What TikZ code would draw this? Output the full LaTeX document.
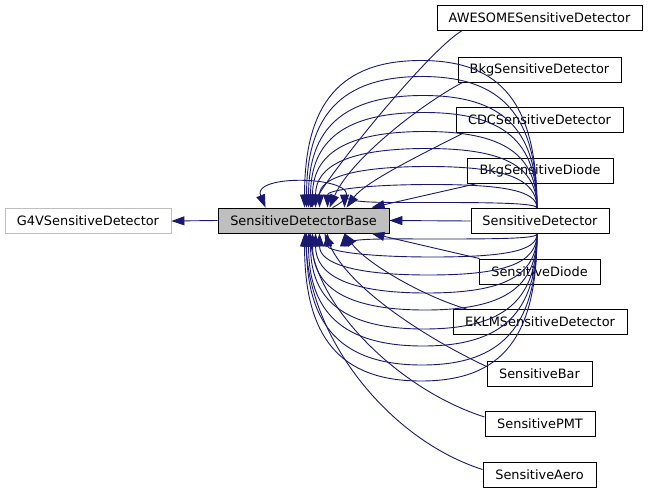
\documentclass[tikz,border=0pt]{standalone}
\usepackage{fontspec}
\setmainfont{DejaVu Sans}
\usetikzlibrary{arrows.meta}
\definecolor{mblue}{HTML}{191970}
\definecolor{grey75}{HTML}{BFBFBF}
\begin{document}
\begin{tikzpicture}[x=1pt,y=-1pt,
  cls/.style={draw=black,line width=0.9pt,rectangle,inner sep=0pt,minimum height=25pt,font=\fontsize{12.9pt}{15pt}\selectfont},
  edge/.style={draw=mblue,line width=0.9pt,-{Triangle[length=13pt,width=9pt]}}]
\useasboundingbox (0,0) rectangle (648,493);
\node[cls,draw=grey75,minimum width=166pt] (g4v) at (88,221) {G4VSensitiveDetector};
\node[cls,fill=grey75,minimum width=171pt] (sdb) at (303.5,220.5) {SensitiveDetectorBase};
\node[cls,minimum width=205pt] (aw) at (539.5,18) {AWESOMESensitiveDetector};
\node[cls,minimum width=163pt] (bsd) at (539.5,69.5) {BkgSensitiveDetector};
\node[cls,minimum width=167pt] (cdc) at (539.5,120) {CDCSensitiveDetector};
\node[cls,minimum width=146pt] (bsdi) at (540,170.5) {BkgSensitiveDiode};
\node[cls,minimum width=138pt] (sd) at (540,221) {SensitiveDetector};
\node[cls,minimum width=121pt] (sdi) at (539.5,271.5) {SensitiveDiode};
\node[cls,minimum width=174pt] (eklm) at (540,322) {EKLMSensitiveDetector};
\node[cls,minimum width=105pt] (bar) at (539.5,373.5) {SensitiveBar};
\node[cls,minimum width=110pt] (pmt) at (540,424) {SensitivePMT};
\node[cls,minimum width=113pt] (aero) at (539.5,474.5) {SensitiveAero};
% base edge
\draw[edge] (sdb.west) -- (g4v.east);
% self loop
\draw[edge] ([xshift=115pt]sdb.north west) .. controls (390,178) and (250,170) .. ([xshift=48pt]sdb.north west);
% SensitiveDetector edges
\draw[edge] (sd.west) -- (sdb.east);
\foreach \h/\ex in {148/87,132/89,113/91,96/93,77/95,60/98,42/102,24/110,6/127}{
  \pgfmathsetmacro{\L}{218+\ex}
  \pgfmathsetmacro{\C}{(537+\L)/2}
  \pgfmathsetmacro{\w}{0.7*(537-\L)/2}
  \pgfmathsetmacro{\v}{0.7*\h}
  \pgfmathsetmacro{\Pu}{208.5-\h}
  \pgfmathsetmacro{\Pd}{233+\h}
  \draw[edge] ([xshift=-3pt]sd.north) .. controls +(0,-\v) and +(\w,0) .. (\C,\Pu)
     .. controls +(-\w,0) and +(0,-\v) .. ([xshift=\ex pt]sdb.north west);
  \draw[edge] ([xshift=-3pt]sd.south) .. controls +(0,\v) and +(\w,0) .. (\C,\Pd)
     .. controls +(-\w,0) and +(0,\v) .. ([xshift=\ex pt]sdb.south west);
}
% other derived classes
\draw[edge] ([xshift=25pt]aw.south west) .. controls (430,50) and (340,160) .. ([xshift=93pt]sdb.north west);
\draw[edge] ([xshift=5pt]bsd.south west) .. controls (420,105) and (350,160) .. ([xshift=112pt]sdb.north west);
\draw[edge] ([xshift=8pt]cdc.south west) .. controls (420,155) and (365,182) .. ([xshift=129pt]sdb.north west);
\draw[edge] ([xshift=11pt]bsdi.south west) -- ([xshift=154pt]sdb.north west);
\draw[edge] ([xshift=1pt]sdi.north west) -- ([xshift=154pt]sdb.south west);
\draw[edge] ([xshift=14pt]eklm.north west) .. controls (420,295) and (365,262) .. ([xshift=127pt]sdb.south west);
\draw[edge] ([yshift=7pt]bar.west) .. controls (430,340) and (350,290) .. ([xshift=107pt]sdb.south west);
\draw[edge] ([yshift=7pt]pmt.west) .. controls (400,390) and (320,310) .. ([xshift=92pt]sdb.south west);
\draw[edge] ([yshift=5pt]aero.west) .. controls (390,440) and (310,340) .. ([xshift=88pt]sdb.south west);
\end{tikzpicture}
\end{document}
